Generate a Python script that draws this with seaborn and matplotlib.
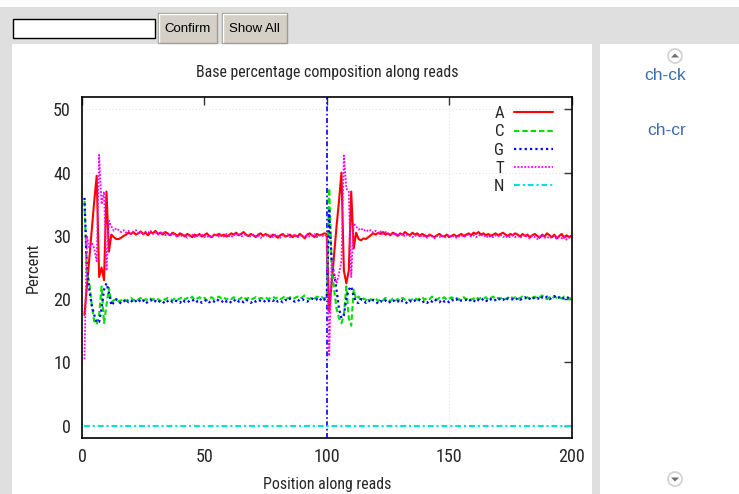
import numpy as np
import pandas as pd
import seaborn as sns
import matplotlib
matplotlib.use("Agg")
import matplotlib.pyplot as plt
from matplotlib import patches
from matplotlib import font_manager as fm

# ---------------- data (percent per position) ----------------
# read 1 : positions 1..100, read 2 : positions 101..200
a_r1_start = [17.5, 22.0, 26.5, 31.0, 35.5, 39.5, 23.5, 25.0, 23.0, 37.0, 27.5, 30.2, 29.8, 29.5, 29.5]
c_r1_start = [35.5, 24.0, 22.5, 19.0, 16.5, 16.0, 17.5, 22.0, 16.2, 19.0, 21.8, 19.5, 19.8, 20.0, 19.6]
g_r1_start = [36.0, 25.0, 21.5, 19.0, 17.5, 16.3, 16.4, 18.5, 21.5, 22.5, 21.0, 19.0, 19.5, 20.0, 19.6]
t_r1_start = [10.5, 30.0, 28.0, 29.0, 28.0, 26.0, 42.8, 35.0, 37.0, 24.5, 32.4, 31.5, 30.8, 31.2, 30.9]

a_r1_rest = [29.7, 30.0, 30.2, 30.5, 30.3, 30.6, 30.2, 30.4, 30.7, 30.3, 30.5, 30.1, 30.6, 30.4, 30.8, 30.3, 30.5, 30.2, 30.6, 30.4,
             30.1, 30.5, 30.3, 30.0, 30.4, 30.2, 29.9, 30.3, 30.1, 29.8, 30.2, 30.0, 30.3, 29.9, 30.1, 30.4, 30.0, 29.8, 30.2, 30.1,
             30.3, 30.0, 30.2, 29.9, 30.1, 30.4, 30.2, 30.5, 30.1, 30.3, 30.6, 30.2, 30.0, 30.3, 30.1, 29.8, 30.2, 30.4, 30.0, 30.3,
             30.1, 29.8, 30.2, 30.0, 29.7, 30.1, 30.3, 29.9, 30.0, 30.2, 29.8, 30.1, 29.9, 30.3, 30.0, 29.6, 30.2, 30.4, 30.1, 29.8,
             30.3, 30.1, 30.2, 30.4, 30.3]
c_r1_rest = [19.8, 20.1, 19.7, 20.0, 20.2, 19.8, 20.1, 19.9, 20.2, 19.7, 20.0, 19.8, 20.1, 19.9, 20.2, 20.0, 19.7, 20.1, 19.9, 20.2,
             20.0, 19.8, 20.2, 19.9, 20.1, 20.3, 19.9, 20.2, 20.0, 20.4, 19.9, 20.1, 20.3, 20.0, 20.2, 19.8, 20.1, 20.3, 20.0, 20.2,
             20.4, 20.1, 20.3, 19.9, 20.2, 20.0, 20.3, 20.1, 19.9, 20.2, 20.4, 20.0, 20.2, 19.9, 20.1, 20.3, 20.0, 20.2, 20.1, 20.3,
             20.0, 20.2, 20.4, 20.1, 20.3, 20.0, 20.2, 20.5, 20.1, 20.3, 20.0, 20.2, 20.4, 20.1, 20.3, 20.6, 20.2, 20.0, 20.3, 20.1,
             20.4, 20.2, 20.3, 20.1, 20.4]
g_r1_rest = [19.3, 19.6, 20.0, 19.5, 19.8, 19.4, 19.7, 20.0, 19.5, 19.8, 19.3, 19.6, 19.9, 19.5, 19.7, 19.4, 19.8, 19.6, 19.3, 19.7,
             19.9, 19.5, 19.8, 19.6, 19.4, 19.9, 19.6, 19.8, 19.5, 19.7, 20.0, 19.6, 19.8, 19.4, 19.7, 19.9, 19.5, 19.8, 19.6, 20.0,
             19.7, 19.5, 19.9, 19.6, 19.8, 19.4, 19.7, 20.0, 19.6, 19.8, 19.5, 19.9, 19.7, 19.4, 19.8, 19.6, 19.9, 19.7, 19.5, 19.8,
             19.6, 19.9, 19.7, 20.0, 19.6, 19.8, 19.5, 19.9, 19.7, 20.1, 19.8, 19.6, 19.9, 19.7, 20.0, 19.8, 19.6, 19.9, 20.1, 19.8,
             20.0, 19.7, 20.2, 19.9, 20.3]
t_r1_rest = [30.6, 30.9, 30.5, 30.8, 30.3, 30.7, 30.9, 30.4, 30.6, 30.2, 30.7, 30.5, 30.8, 30.3, 30.6, 30.2, 30.4, 30.7, 30.1, 30.3,
             30.0, 30.4, 30.1, 29.8, 30.2, 29.9, 30.1, 29.7, 30.0, 30.2, 29.8, 30.1, 29.9, 30.3, 29.8, 30.0, 29.7, 30.1, 29.9, 30.2,
             29.8, 30.1, 29.9, 30.3, 30.0, 29.8, 30.2, 30.0, 30.4, 29.9, 30.1, 30.3, 29.8, 30.0, 30.2, 29.9, 30.1, 29.7, 30.0, 30.2,
             29.9, 30.1, 29.8, 30.2, 30.0, 29.7, 30.1, 29.9, 30.3, 29.8, 30.0, 30.2, 29.7, 30.0, 30.1, 29.8, 30.2, 29.9, 30.0, 30.3,
             29.8, 30.1, 29.9, 30.2, 30.0]

a_r2_start = [18.0, 22.5, 27.0, 31.5, 35.5, 40.0, 24.5, 22.5, 24.5, 37.0, 28.0, 30.5, 29.5, 29.3, 29.6]
c_r2_start = [37.5, 25.5, 21.5, 18.5, 17.0, 16.2, 17.5, 22.0, 17.0, 15.8, 21.5, 20.0, 20.4, 19.8, 20.1]
g_r2_start = [34.0, 26.0, 24.0, 21.5, 18.5, 17.0, 17.5, 20.0, 21.5, 22.0, 20.5, 19.5, 19.4, 20.0, 19.8]
t_r2_start = [11.0, 26.0, 24.0, 22.5, 24.0, 26.0, 42.7, 37.5, 37.0, 23.5, 32.0, 31.5, 31.0, 31.2, 30.8]

a_r2_rest = [29.5, 29.8, 30.1, 30.4, 30.2, 30.5, 30.3, 30.6, 30.2, 30.4, 30.1, 30.5, 30.3, 30.0, 30.4, 30.2, 30.6, 30.3, 30.1, 30.5,
             30.2, 30.4, 30.0, 30.3, 30.1, 29.9, 30.2, 30.0, 29.8, 30.1, 30.3, 30.0, 29.9, 30.2, 29.8, 30.0, 30.2, 29.9, 30.1, 30.3,
             30.0, 30.2, 30.4, 30.1, 30.5, 30.3, 30.6, 30.2, 30.4, 30.1, 30.3, 30.0, 30.2, 30.4, 30.1, 30.3, 30.5, 30.2, 30.0, 30.3,
             30.1, 30.4, 30.2, 29.9, 30.3, 30.0, 30.2, 29.8, 30.1, 30.3, 30.0, 29.7, 30.2, 29.9, 30.4, 30.1, 29.8, 30.2, 29.6, 30.0,
             30.3, 29.7, 30.1, 29.8, 30.0]
c_r2_rest = [19.9, 19.6, 20.0, 19.8, 20.1, 19.7, 20.0, 19.8, 20.2, 19.9, 19.7, 20.1, 19.8, 20.0, 19.7, 20.2, 19.9, 20.1, 19.8, 20.0,
             20.2, 19.9, 20.1, 20.3, 19.9, 20.2, 20.0, 20.4, 20.1, 19.9, 20.2, 20.0, 20.3, 19.9, 20.1, 20.3, 20.0, 20.2, 19.9, 20.1,
             20.3, 20.0, 20.2, 19.9, 20.1, 20.4, 20.0, 20.2, 20.1, 20.3, 19.9, 20.2, 20.4, 20.0, 20.2, 20.1, 20.3, 20.0, 20.2, 20.5,
             20.1, 20.3, 20.0, 20.2, 20.4, 20.1, 20.3, 20.0, 20.2, 20.4, 20.1, 20.3, 20.6, 20.2, 20.0, 20.3, 20.1, 20.4, 20.2, 20.3,
             20.1, 20.4, 20.2, 20.0, 20.2]
g_r2_rest = [19.4, 19.8, 19.5, 19.9, 19.6, 19.3, 19.7, 19.5, 19.8, 19.4, 19.6, 19.9, 19.5, 19.7, 19.4, 19.8, 19.6, 19.3, 19.7, 19.5,
             19.8, 19.6, 19.9, 19.5, 19.7, 19.4, 19.8, 19.6, 20.0, 19.7, 19.5, 19.9, 19.6, 19.8, 19.5, 19.9, 19.7, 20.0, 19.6, 19.8,
             19.7, 19.9, 19.6, 20.0, 19.8, 19.5, 19.9, 19.7, 20.1, 19.8, 19.6, 20.0, 19.7, 19.9, 20.2, 19.8, 20.0, 19.7, 20.1, 19.9,
             20.0, 19.8, 20.2, 19.9, 20.1, 20.3, 19.9, 20.1, 20.4, 20.0, 20.2, 19.9, 20.3, 20.1, 20.4, 20.0, 20.2, 20.5, 20.1, 20.3,
             20.0, 20.2, 20.4, 20.1, 20.3]
t_r2_rest = [31.0, 30.7, 30.9, 30.5, 30.8, 30.4, 30.7, 30.3, 30.6, 30.4, 30.2, 30.5, 30.1, 30.4, 30.0, 30.3, 29.9, 30.2, 30.0, 29.8,
             30.1, 29.9, 30.2, 29.8, 30.0, 29.7, 30.1, 29.9, 29.6, 30.0, 29.8, 30.1, 29.7, 29.9, 30.2, 29.8, 30.0, 29.7, 29.9, 30.1,
             29.8, 30.0, 30.2, 29.9, 30.1, 29.8, 30.0, 30.3, 29.9, 30.1, 29.7, 30.0, 29.8, 30.1, 29.9, 30.2, 29.8, 30.0, 29.7, 29.9,
             30.1, 29.8, 30.0, 29.7, 29.9, 30.2, 29.8, 29.6, 30.0, 29.8, 29.5, 29.9, 30.1, 29.7, 29.9, 29.6, 29.8, 30.0, 29.5, 29.8,
             29.6, 29.9, 29.4, 29.7, 29.8]

n_value = [0.0] * 200

bases = ["A", "C", "G", "T", "N"]
x_ticks = [0, 50, 100, 150, 200]
y_ticks = [0, 10, 20, 30, 40, 50]
read_boundary = 100

series = {
    "A": a_r1_start + a_r1_rest + a_r2_start + a_r2_rest,
    "C": c_r1_start + c_r1_rest + c_r2_start + c_r2_rest,
    "G": g_r1_start + g_r1_rest + g_r2_start + g_r2_rest,
    "T": t_r1_start + t_r1_rest + t_r2_start + t_r2_rest,
    "N": n_value,
}

# ---------------- styling ----------------
W, H, DPI = 739, 494, 100
names = {f.name for f in fm.fontManager.ttflist}
FONT = "Liberation Sans"
for cand in ["Liberation Sans Narrow", "DejaVu Sans Condensed", "Roboto Condensed", "Open Sans Condensed"]:
    if cand in names:
        FONT = cand
        break
narrow = FONT != "Liberation Sans"
fs_tick = 13 if narrow else 12
fs_lab = 11.4 if narrow else 10.2
fs_leg = 12.2 if narrow else 11.5

sns.set_style("white")
plt.rcParams["font.family"] = [FONT, "DejaVu Sans"]

styles = {
    "A": dict(color="#ff0000", lw=1.5, ls="-"),
    "C": dict(color="#00e000", lw=1.5, ls=(0, (2.6, 1.4))),
    "G": dict(color="#0000ff", lw=1.6, ls=(0, (1.0, 1.4))),
    "T": dict(color="#ff00ff", lw=1.3, ls=(0, (1.0, 0.9))),
    "N": dict(color="#00e0e0", lw=1.5, ls=(0, (2.8, 1.4, 1.0, 1.4))),
}

fig = plt.figure(figsize=(W / DPI, H / DPI), dpi=DPI)
fig.patch.set_facecolor("#dfdfdf")

# page chrome in pixel coordinates
bg = fig.add_axes([0, 0, 1, 1], zorder=-10)
bg.set_xlim(0, W)
bg.set_ylim(H, 0)
bg.axis("off")
bg.add_patch(patches.Rectangle((0, 0), W, 7, color="white", lw=0))
bg.add_patch(patches.Rectangle((12, 44), 580, 460, color="white", lw=0))
bg.add_patch(patches.Rectangle((600, 44), 139, 460, color="white", lw=0))
# text box
bg.add_patch(patches.Rectangle((13, 19), 142, 19, facecolor="white", edgecolor="black", lw=1))
# buttons
for (bx, bw, label) in [(158, 59, "Confirm"), (222, 65, "Show All")]:
    bg.add_patch(patches.Rectangle((bx, 13), bw, 30, facecolor="#d4d0c8", edgecolor="#a09c94", lw=1))
    bg.plot([bx + 1, bx + 1, bx + bw - 1], [42, 14, 14], color="white", lw=1)
    bg.text(bx + bw / 2, 29, label, ha="center", va="center", fontsize=9.5, color="black",
            family=["Liberation Sans", "DejaVu Sans"])
# side panel links and scroll icons
bg.text(665, 76, "ch-ck", ha="center", va="center", fontsize=12.5, color="#3a6db0",
        family=["Liberation Sans", "DejaVu Sans"])
bg.text(667, 130, "ch-cr", ha="center", va="center", fontsize=12.5, color="#3a6db0",
        family=["Liberation Sans", "DejaVu Sans"])
for cy, up in [(56, True), (479, False)]:
    bg.add_patch(patches.Circle((675, cy), 7, facecolor="white", edgecolor="#d0d0d0", lw=1.2))
    if up:
        tri = [(671, cy + 1.5), (679, cy + 1.5), (675, cy - 2.5)]
    else:
        tri = [(671, cy - 1.5), (679, cy - 1.5), (675, cy + 2.5)]
    bg.add_patch(patches.Polygon(tri, closed=True, color="#707070", lw=0))

# chart
ax = fig.add_axes([82 / W, 1 - 438.3 / H, (571.5 - 82) / W, (438.3 - 96.7) / H])
ax.set_facecolor("white")
positions = np.arange(1, 201)
for b in bases:
    st = styles[b]
    sns.lineplot(x=positions, y=series[b], ax=ax, label=b, color=st["color"],
                 linewidth=st["lw"], linestyle=st["ls"])
ax.axvline(read_boundary, color="#0000ff", lw=1.2, ls=(0, (3, 1.5, 1, 1.5)), zorder=1)

ax.set_xlim(0, 200)
ax.set_ylim(-2, 52)
ax.set_xticks(x_ticks)
ax.set_yticks(y_ticks)
ax.tick_params(direction="in", length=6, width=1, top=True, right=True,
               labeltop=False, labelright=False, labelsize=fs_tick, color="#333333")
ax.tick_params(axis="y", pad=8)
ax.tick_params(axis="x", pad=7)
for s in ax.spines.values():
    s.set_color("black")
    s.set_linewidth(1.2)
ax.grid(True, color="#e2e2e2", lw=0.8, ls=(0, (1, 2)))
for gl in ax.get_ygridlines():
    if abs(gl.get_ydata()[0]) < 1e-9:
        gl.set_visible(False)
for gl in ax.get_xgridlines():
    if gl.get_xdata()[0] in (0, 200):
        gl.set_visible(False)

ax.set_title("Base percentage composition along reads", fontsize=fs_lab, pad=14)
ax.set_xlabel("Position along reads", fontsize=fs_lab, labelpad=8)
ax.set_ylabel("Percent", fontsize=fs_lab + 0.6, labelpad=9)

leg = ax.legend(loc="upper right", bbox_to_anchor=(0.963, 0.972), frameon=False,
                markerfirst=False, fontsize=fs_leg, handlelength=2.35, handletextpad=0.55,
                labelspacing=0.19, borderpad=0, borderaxespad=0)

fig.savefig("out.png", dpi=DPI, facecolor=fig.get_facecolor())
